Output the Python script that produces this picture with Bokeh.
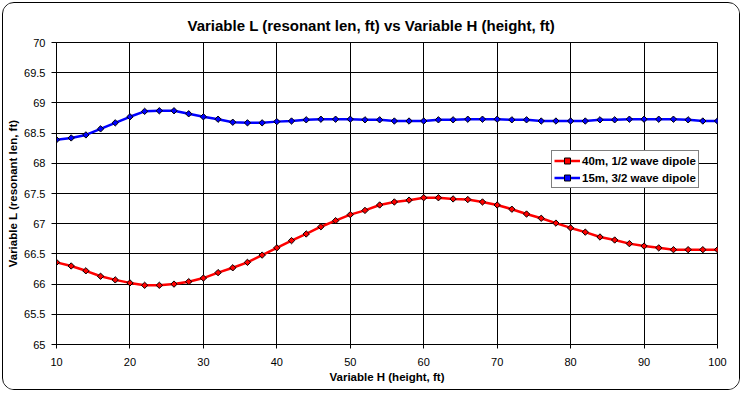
import numpy as np
from bokeh.plotting import figure
from bokeh.models import Range1d, FixedTicker, Legend, LegendItem
from bokeh.embed import file_html
from bokeh.resources import INLINE

# ---- data ----
height_ft = [10, 12, 14, 16, 18, 20, 22, 24, 26, 28, 30, 32, 34, 36, 38, 40,
             42, 44, 46, 48, 50, 52, 54, 56, 58, 60, 62, 64, 66, 68, 70, 72,
             74, 76, 78, 80, 82, 84, 86, 88, 90, 92, 94, 96, 98, 100]
len_40m = [66.36, 66.30, 66.22, 66.13, 66.07, 66.02, 65.98, 65.98, 66.00, 66.04,
           66.10, 66.19, 66.27, 66.36, 66.48, 66.60, 66.72, 66.83, 66.95, 67.05,
           67.15, 67.22, 67.31, 67.36, 67.39, 67.43, 67.43, 67.41, 67.40, 67.36,
           67.31, 67.24, 67.16, 67.09, 67.01, 66.93, 66.86, 66.78, 66.73, 66.67,
           66.63, 66.60, 66.57, 66.57, 66.57, 66.57]
len_15m = [68.39, 68.42, 68.47, 68.57, 68.67, 68.77, 68.86, 68.87, 68.87, 68.82,
           68.77, 68.73, 68.68, 68.67, 68.67, 68.69, 68.70, 68.72, 68.73, 68.73,
           68.73, 68.72, 68.72, 68.70, 68.70, 68.70, 68.72, 68.72, 68.73, 68.73,
           68.73, 68.72, 68.72, 68.70, 68.70, 68.70, 68.70, 68.72, 68.72, 68.73,
           68.73, 68.73, 68.73, 68.72, 68.70, 68.70]
series_names = ["40m, 1/2 wave dipole", "15m, 3/2 wave dipole"]
x_ticks = [10, 20, 30, 40, 50, 60, 70, 80, 90, 100]
y_ticks = [65, 65.5, 66, 66.5, 67, 67.5, 68, 68.5, 69, 69.5, 70]
y_tick_labels = ["65", "65.5", "66", "66.5", "67", "67.5", "68", "68.5", "69", "69.5", "70"]
title_text = "Variable L (resonant len, ft)  vs  Variable H (height, ft)"
x_label = "Variable H (height, ft)"
y_label = "Variable L (resonant len, ft)"

FONT = "Liberation Sans"

p = figure(width=738, height=388, output_backend="svg", toolbar_location=None,
           x_range=Range1d(10, 100), y_range=Range1d(65, 70),
           min_border_left=53, min_border_right=24, min_border_top=39,
           min_border_bottom=47,
           background_fill_color="white", border_fill_color="white")

p.styles = {"margin": "2px", "border": "1px solid black",
            "border-radius": "12px", "overflow": "hidden"}

# title
p.title.text = title_text
p.title.align = "left"
p.title.offset = 131
p.title.standoff = 18
p.title.text_font = FONT
p.title.text_font_size = "15px"
p.title.text_font_style = "bold"
p.title.text_color = "black"

# axes
p.xaxis.ticker = FixedTicker(ticks=x_ticks)
p.yaxis.ticker = FixedTicker(ticks=y_ticks)
p.yaxis.major_label_overrides = dict(zip(y_ticks, y_tick_labels))
for ax in (p.xaxis[0], p.yaxis[0]):
    ax.axis_line_color = "black"
    ax.major_tick_line_color = "black"
    ax.major_tick_in = 0
    ax.minor_tick_line_color = None
    ax.major_label_text_font = FONT
    ax.major_label_text_font_size = "11px"
    ax.major_label_text_color = "black"
    ax.axis_label_text_font = FONT
    ax.axis_label_text_font_size = "11.5px"
    ax.axis_label_text_font_style = "bold"
    ax.axis_label_text_color = "black"
p.xaxis.major_tick_out = 4
p.yaxis.major_tick_out = 5
p.xaxis.major_label_standoff = 9
p.yaxis.major_label_standoff = 6
p.xaxis.axis_label = x_label
p.yaxis.axis_label = y_label
p.xaxis.axis_label_standoff = 2
p.yaxis.axis_label_standoff = 2

# grid & frame
for g in (p.xgrid[0], p.ygrid[0]):
    g.grid_line_color = "black"
    g.grid_line_alpha = 1.0
    g.grid_line_width = 1
p.outline_line_color = "black"
p.outline_line_alpha = 1.0
p.outline_line_width = 1

# series
colors = ["#FF0000", "#0000FF"]
legend_items = []
for name, vals, col in zip(series_names, [len_40m, len_15m], colors):
    rl = p.line(height_ft, vals, line_color=col, line_width=2.5)
    rs = p.scatter(height_ft, vals, marker="square", angle=np.pi / 4, size=4.5,
                   fill_color=col, line_color="#000000", line_width=1)
    legend_items.append(LegendItem(label=name, renderers=[rl, rs]))

legend = Legend(items=legend_items,
                location=(495, 156),
                border_line_color="black", border_line_width=1,
                background_fill_color="white", background_fill_alpha=1.0,
                padding=2, spacing=2, margin=0,
                glyph_width=26, glyph_height=15, label_height=15,
                label_standoff=2,
                label_text_font=FONT, label_text_font_size="11.5px",
                label_text_font_style="bold", label_text_color="black")
p.add_layout(legend)

open("out.html", "w").write(file_html(p, INLINE))
